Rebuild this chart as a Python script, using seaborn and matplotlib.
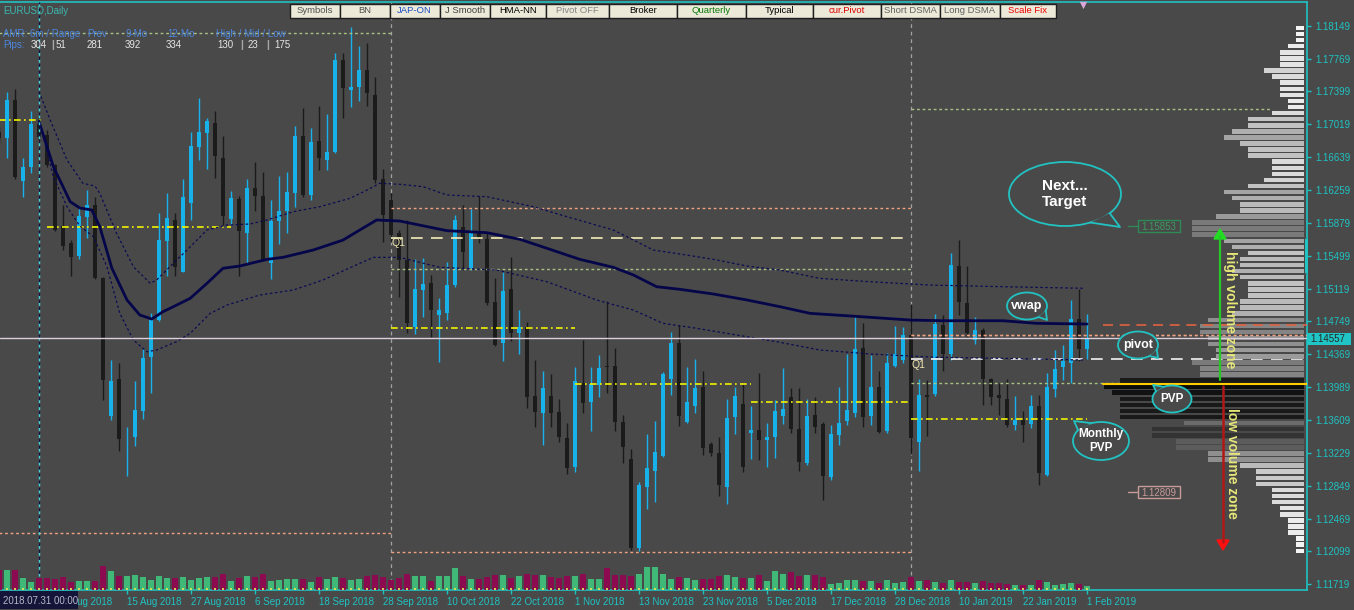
import numpy as np
import pandas as pd
import seaborn as sns
import matplotlib.pyplot as plt
from matplotlib.patches import Ellipse, Polygon, Rectangle
from matplotlib.colors import Normalize, LinearSegmentedColormap

BG = "#494949"
CYAN = "#1fc3c3"

sns.set_theme(style="dark", rc={"axes.facecolor": BG, "figure.facecolor": BG,
                                "axes.edgecolor": CYAN, "axes.grid": False})
plt.rcParams["font.family"] = ["Liberation Sans", "DejaVu Sans"]

# ---------------- EURUSD daily bars (first one is clipped at the left edge) ----------------
first_bar = -1
opens = [1.16931, 1.16856, 1.17297, 1.16368, 1.16522, 1.17021, 1.16894, 1.16548, 1.15846, 1.15653,
         1.15500, 1.15953, 1.16087, 1.15247, 1.13661, 1.14084, 1.13422, 1.13420, 1.13715, 1.14341,
         1.14763, 1.15676, 1.15915, 1.15319, 1.16107, 1.16759, 1.16920, 1.17028, 1.16629, 1.15926,
         1.16157, 1.15762, 1.16280, 1.16191, 1.15423, 1.15903, 1.16022, 1.16229, 1.16882, 1.16203,
         1.16828, 1.16606, 1.16701, 1.17757, 1.17412, 1.17450, 1.17642, 1.17354, 1.16384, 1.16145,
         1.15768, 1.15454, 1.14686, 1.15109, 1.15186, 1.14821, 1.14847, 1.15166, 1.15838, 1.15359,
         1.15780, 1.15692, 1.14974, 1.14495, 1.15117, 1.14610, 1.14679, 1.13888, 1.13689, 1.13888,
         1.13700, 1.13401, 1.13067, 1.14041, 1.13822, 1.14015, 1.14234, 1.14234, 1.13592, 1.13159,
         1.12134, 1.12844, 1.13028, 1.13197, 1.14080, 1.14502, 1.13592, 1.13773, 1.13988, 1.13335,
         1.13235, 1.12837, 1.13650, 1.13796, 1.13466, 1.13497, 1.13381, 1.13412, 1.13658, 1.13873,
         1.13505, 1.13120, 1.13669, 1.13566, 1.12959, 1.13439, 1.13604, 1.13696, 1.14437, 1.13658,
         1.13988, 1.13489, 1.14234, 1.14303, 1.14591, 1.13362, 1.13900, 1.13911, 1.14706, 1.14372,
         1.15385, 1.14962, 1.14533, 1.14648, 1.14080, 1.13900, 1.13850, 1.13555, 1.13612, 1.13566,
         1.13773, 1.12978, 1.13965, 1.14226, 1.14272, 1.14771, 1.14426]
highs = [1.16990, 1.17392, 1.17420, 1.16626, 1.17170, 1.17090, 1.16951, 1.16556, 1.16087, 1.15684,
         1.16049, 1.16260, 1.16183, 1.15258, 1.14303, 1.14268, 1.13535, 1.14061, 1.14429, 1.14844,
         1.15995, 1.16226, 1.15995, 1.16387, 1.16928, 1.17316, 1.17086, 1.17173, 1.16882, 1.16252,
         1.16191, 1.16384, 1.16579, 1.16471, 1.16145, 1.16421, 1.16471, 1.16997, 1.17201, 1.16971,
         1.17227, 1.17135, 1.17841, 1.17841, 1.18141, 1.17918, 1.17956, 1.17565, 1.16499, 1.16229,
         1.15800, 1.15915, 1.15462, 1.15474, 1.15281, 1.15013, 1.15435, 1.15972, 1.16087, 1.16038,
         1.16191, 1.15762, 1.15243, 1.15319, 1.15485, 1.14878, 1.14744, 1.14303, 1.14179, 1.14141,
         1.13850, 1.13574, 1.14219, 1.14533, 1.14219, 1.14360, 1.14985, 1.14437, 1.13669, 1.13274,
         1.12901, 1.13451, 1.13604, 1.14168, 1.14629, 1.14706, 1.14226, 1.14311, 1.14179, 1.13358,
         1.13419, 1.13850, 1.13988, 1.14035, 1.13773, 1.14157, 1.13581, 1.13842, 1.14207, 1.13977,
         1.13977, 1.13850, 1.13873, 1.13589, 1.13555, 1.13995, 1.14372, 1.14821, 1.14725, 1.14360,
         1.14179, 1.14380, 1.14694, 1.14686, 1.14947, 1.14080, 1.14072, 1.14832, 1.14821, 1.15531,
         1.15684, 1.15385, 1.14794, 1.14671, 1.14095, 1.14035, 1.14080, 1.13888, 1.13719, 1.13900,
         1.13900, 1.14149, 1.14418, 1.14475, 1.14994, 1.15117, 1.14832]
lows = [1.16800, 1.16626, 1.16384, 1.16183, 1.16453, 1.16836, 1.16529, 1.15788, 1.15569, 1.15270,
        1.15462, 1.15704, 1.15232, 1.13842, 1.13612, 1.13258, 1.12970, 1.13316, 1.13623, 1.13923,
        1.14752, 1.15270, 1.15270, 1.15316, 1.15915, 1.16606, 1.16499, 1.16395, 1.15857, 1.15857,
        1.15270, 1.15423, 1.16022, 1.15443, 1.15232, 1.15638, 1.15762, 1.16068, 1.16176, 1.16145,
        1.16490, 1.16490, 1.16690, 1.17086, 1.17219, 1.17289, 1.17227, 1.16337, 1.15665, 1.15665,
        1.15025, 1.14610, 1.14602, 1.14801, 1.14571, 1.14283, 1.14763, 1.15147, 1.15339, 1.15339,
        1.15646, 1.14936, 1.14467, 1.14294, 1.14525, 1.14372, 1.13746, 1.13528, 1.13324, 1.13528,
        1.13362, 1.12990, 1.13016, 1.13689, 1.13489, 1.13880, 1.13919, 1.13489, 1.13120, 1.12115,
        1.12107, 1.12583, 1.12671, 1.13182, 1.13900, 1.13543, 1.13577, 1.13689, 1.13209, 1.13197,
        1.12737, 1.12644, 1.13451, 1.13016, 1.13159, 1.13151, 1.13067, 1.13171, 1.13566, 1.13466,
        1.13028, 1.13093, 1.13459, 1.12690, 1.12921, 1.13324, 1.13555, 1.13650, 1.13535, 1.13555,
        1.13466, 1.13466, 1.14219, 1.14265, 1.13220, 1.13028, 1.13428, 1.13888, 1.14179, 1.14303,
        1.14821, 1.14571, 1.14487, 1.13784, 1.13784, 1.13669, 1.13535, 1.13497, 1.13362, 1.13516,
        1.12863, 1.12967, 1.13873, 1.14072, 1.14035, 1.14294, 1.14311]
closes = [1.16859, 1.17297, 1.16407, 1.16522, 1.17021, 1.16867, 1.16548, 1.15800, 1.15615, 1.15492,
          1.15961, 1.16087, 1.15247, 1.14072, 1.14061, 1.13396, 1.13428, 1.13727, 1.14326, 1.14763,
          1.15684, 1.15934, 1.15370, 1.16176, 1.16767, 1.16932, 1.17058, 1.16655, 1.15961, 1.16165,
          1.15792, 1.16280, 1.16191, 1.15454, 1.15903, 1.16022, 1.16241, 1.16882, 1.16203, 1.16816,
          1.16632, 1.16701, 1.17757, 1.17431, 1.17450, 1.17642, 1.17381, 1.16375, 1.15972, 1.15742,
          1.15454, 1.14732, 1.15117, 1.15174, 1.14878, 1.14878, 1.15166, 1.15915, 1.15550, 1.15780,
          1.15704, 1.14962, 1.14475, 1.15097, 1.14610, 1.14679, 1.13873, 1.13707, 1.13977, 1.13696,
          1.13412, 1.13055, 1.14061, 1.13811, 1.14026, 1.14207, 1.14219, 1.13592, 1.13297, 1.12134,
          1.12863, 1.13055, 1.13247, 1.14141, 1.14502, 1.13658, 1.13822, 1.13977, 1.13286, 1.13235,
          1.12863, 1.13638, 1.13888, 1.13074, 1.13497, 1.13381, 1.13420, 1.13715, 1.13735, 1.13505,
          1.13131, 1.13658, 1.13528, 1.12967, 1.13451, 1.13574, 1.13727, 1.14426, 1.13643, 1.13988,
          1.13477, 1.14265, 1.14372, 1.14591, 1.13401, 1.13900, 1.13880, 1.14717, 1.14372, 1.15397,
          1.14974, 1.14617, 1.14648, 1.14080, 1.13873, 1.13862, 1.13555, 1.13612, 1.13555, 1.13773,
          1.12998, 1.13988, 1.14196, 1.14294, 1.14771, 1.14426, 1.14541]
tick_vol = [56, 56, 56, 35, 23, 35, 35, 32, 38, 23, 26, 26, 26, 68, 53, 41, 41, 44, 38, 29,
            41, 35, 35, 38, 29, 35, 38, 38, 47, 26, 35, 41, 38, 47, 26, 29, 32, 32, 32, 23,
            38, 32, 38, 35, 29, 32, 41, 44, 38, 29, 35, 47, 41, 41, 26, 41, 41, 62, 41, 32,
            32, 38, 44, 44, 35, 41, 47, 44, 44, 38, 35, 41, 41, 47, 32, 32, 62, 44, 44, 41,
            47, 65, 65, 47, 32, 38, 35, 29, 32, 32, 41, 44, 38, 35, 35, 44, 26, 53, 47, 50,
            41, 44, 44, 38, 17, 20, 29, 29, 26, 26, 20, 29, 20, 23, 38, 26, 29, 23, 20, 29,
            23, 23, 20, 26, 20, 20, 17, 14, 14, 14, 29, 23, 14, 17, 20, 17, 11]

# anchored vwap and its bands (bar index, price)
vwap_x = [4, 5.8, 7.9, 9.1, 10.6, 11.6, 13.1, 15, 16.6, 18.1, 19.5, 20.8, 22.9, 25, 27, 29.1, 32.5,
          34.5, 38.3, 42, 44.1, 46.2, 49.1, 55, 60, 64.1, 67.5, 71.6, 75.8, 78.3, 81.2, 84.1, 88.3,
          92.5, 96.6, 100.4, 105.4, 112.9, 117, 124.5, 128.7, 135]
vwap_y = [1.17047, 1.16529, 1.16126, 1.16053, 1.16030, 1.15838, 1.15362, 1.14994, 1.14821, 1.14775,
          1.14859, 1.14917, 1.15013, 1.15186, 1.15359, 1.15385, 1.15462, 1.15485, 1.15570, 1.15684,
          1.15800, 1.15915, 1.15903, 1.15792, 1.15769, 1.15693, 1.15589, 1.15462, 1.15370, 1.15282,
          1.15147, 1.15117, 1.15063, 1.14994, 1.14917, 1.14840, 1.14810, 1.14763, 1.14755, 1.14755,
          1.14725, 1.14717]
upper_x = [4, 5.4, 7.5, 9.5, 11, 11.6, 13.7, 15.8, 17.9, 18.7, 21.2, 22.5, 25, 27.5, 30.4, 32.5,
           35.8, 39.1, 42.9, 45, 46.6, 49.1, 52, 55, 60, 65.8, 70, 75.8, 80.8, 84.1, 88.3, 92.5,
           96.6, 101.6, 107.9, 115.4, 124.5, 134.5]
upper_y = [1.17392, 1.17066, 1.16606, 1.16337, 1.16306, 1.16222, 1.15762, 1.15377, 1.15186, 1.15224,
           1.15454, 1.15569, 1.15800, 1.15857, 1.15869, 1.15915, 1.16011, 1.16068, 1.16165, 1.16260,
           1.16338, 1.16326, 1.16299, 1.16203, 1.16183, 1.16068, 1.15953, 1.15800, 1.15569, 1.15524,
           1.15462, 1.15385, 1.15339, 1.15243, 1.15204, 1.15166, 1.15147, 1.15129]
lower_x = [4, 5.8, 7.5, 9.1, 10.8, 12.5, 14.1, 15.8, 17.5, 18.7, 21.2, 22.9, 25.4, 27.5, 31.6, 35.8,
           39.5, 44.1, 45.8, 49.1, 54.1, 61.2, 67.5, 73.7, 78.3, 82, 86.2, 92.5, 96.6, 101.6, 107.9,
           116.2, 124.5, 134.5]
lower_y = [1.17066, 1.16413, 1.16068, 1.15846, 1.15723, 1.15377, 1.14840, 1.14533, 1.14398, 1.14418,
           1.14514, 1.14610, 1.14840, 1.14936, 1.15051, 1.15109, 1.15224, 1.15416, 1.15485, 1.15485,
           1.15370, 1.15339, 1.15204, 1.14994, 1.14878, 1.14725, 1.14668, 1.14571, 1.14507, 1.14418,
           1.14372, 1.14334, 1.14322, 1.14303]

# monthly point of value (yellow dash-dot steps)
mpvp_from = [-1, 5, 48, 71, 93, 113]
mpvp_to = [4.5, 28, 71, 93, 113, 135]
mpvp_price = [1.17066, 1.15838, 1.14668, 1.14023, 1.13825, 1.13620]

# quarterly levels
qpiv_from, qpiv_to, qpiv_price = [48, 113], [113, 163], [1.15704, 1.14311]
qhl_from = [-1, 48, 48, 113]
qhl_to = [48, 113, 113, 163]
qhl_price = [1.12307, 1.16050, 1.12088, 1.14590]
prev_from = [-1, 48, 113, 113]
prev_to = [48, 113, 158, 163]
prev_price = [1.18068, 1.15347, 1.17193, 1.14034]

last_price = 1.14557
cur_pivot = 1.14705
pvp_price = 1.14023
anchor_bar = 4
quarter_bars = [48, 113]

# session volume profile
profile_top = 1.18126
profile_step = 0.0007
profile_vol = [1, 1, 1, 2, 3, 3, 3, 5, 4, 3, 3, 3, 2, 2, 4, 7, 7, 9, 10, 8,
               7, 7, 4, 4, 4, 5, 7, 10, 9, 8, 8, 11, 14, 14, 14, 10, 9, 7, 8, 8,
               9, 8, 7, 7, 7, 8, 8, 9, 12, 13, 13, 12, 12, 11, 11, 14, 13, 13, 23, 25,
               24, 23, 23, 23, 23, 15, 19, 19, 16, 16, 12, 12, 8, 6, 6, 6, 4, 4, 4, 3,
               3, 2, 2, 2, 1, 1, 1]

price_ticks = [1.18149, 1.17769, 1.17399, 1.17019, 1.16639, 1.16259, 1.15879, 1.15499, 1.15119,
               1.14749, 1.14369, 1.13989, 1.13609, 1.13229, 1.12849, 1.12469, 1.12099, 1.11719]
date_bars = [7, 15, 23, 31, 39, 47, 55, 63, 71, 79, 87, 95, 103, 111, 119, 127, 135]
date_labels = ["3 Aug 2018", "15 Aug 2018", "27 Aug 2018", "6 Sep 2018", "18 Sep 2018",
               "28 Sep 2018", "10 Oct 2018", "22 Oct 2018", "1 Nov 2018", "13 Nov 2018",
               "23 Nov 2018", "5 Dec 2018", "17 Dec 2018", "28 Dec 2018", "10 Jan 2019",
               "22 Jan 2019", "1 Feb 2019"]

df = pd.DataFrame({"o": opens, "h": highs, "l": lows, "c": closes, "vol": tick_vol})
df["bar"] = np.arange(len(df)) + first_bar
df["up"] = df.c >= df.o

X_LO, X_HI = -0.875, 162.44
Y_LO, Y_HI = 1.116544, 1.184254

fig = plt.figure(figsize=(13.54, 6.10), dpi=100)
ax = fig.add_axes([0, 1 - 590 / 610, 1306.5 / 1354, 588 / 610])
ax_v = ax.twinx()
ax_p = ax.twiny()

# ---------------- candles ----------------
BLUE, DARK = "#17b2ea", "#1b1b1b"
ccol = np.where(df.up, BLUE, DARK)
ax.vlines(df.bar, df.l, df.h, colors=ccol, lw=1, zorder=2)
body = np.maximum((df.c - df.o).abs(), 0.00009)
ax.bar(df.bar, body, bottom=np.minimum(df.o, df.c), width=0.62, color=ccol, lw=0, zorder=3)

# ---------------- indicator lines ----------------
sns.lineplot(x=vwap_x, y=vwap_y, ax=ax, color="#05054a", lw=2.0, zorder=5)
sns.lineplot(x=upper_x, y=upper_y, ax=ax, color="#0b0b55", lw=0.9, ls=(0, (2, 2)), zorder=5)
sns.lineplot(x=lower_x, y=lower_y, ax=ax, color="#0b0b55", lw=0.9, ls=(0, (2, 2)), zorder=5)

ax.hlines(mpvp_price, mpvp_from, mpvp_to, color="#f2f200", lw=1.2, ls=(0, (4, 2, 1, 2)), zorder=4)
ax.hlines(qpiv_price[0], qpiv_from[0], qpiv_to[0], color="#f3eeb8", lw=1.2, ls=(0, (7, 5)), zorder=4)
ax.hlines(qpiv_price[1], qpiv_from[1], qpiv_to[1], color="#f2f2f2", lw=1.2, ls=(0, (7, 5)), zorder=4)
ax.hlines(qhl_price, qhl_from, qhl_to, color="#f0a283", lw=1.0, ls=(0, (2, 2)), zorder=4)
ax.hlines(prev_price, prev_from, prev_to, color="#a9c283", lw=1.0, ls=(0, (2, 2)), zorder=4)
for qb in quarter_bars:
    ax.axvline(qb, color="#a2a2a2", lw=0.9, ls=(0, (3, 3)), zorder=1)
ax.axvline(anchor_bar, color="#45d6d6", lw=1.0, ls=(0, (3, 2)), zorder=6)
ax.axvline(anchor_bar, color="#0d0d40", lw=1.0, ls=(3, (2, 3)), zorder=6)

ax.set_xlim(X_LO, X_HI)
ax.set_ylim(Y_LO, Y_HI)

# ---------------- tick volume ----------------
vcol = np.where(df.up, "#40b877", "#8c0a4f")
ax_v.bar(df.bar, df.vol, width=0.7, color=vcol, lw=0)
ax_v.hlines(np.full(len(df), 4.0), df.bar - 0.18, df.bar + 0.18, color="#dfe35a", lw=1.3)
ax_v.set_ylim(0, 1676)
ax_v.set_yticks([])

# ---------------- volume profile (right) ----------------
levels = profile_top - profile_step * np.arange(len(profile_vol))
prof_cmap = LinearSegmentedColormap.from_list(
    "prof", [(0.0, "#f4f4f4"), (0.3, "#b8b8b8"), (0.54, "#7a7a7a"), (0.75, "#333333"), (1.0, "#0c0c0c")])
pcol = prof_cmap(Normalize(1, 25, clip=True)(profile_vol))
ax_p.barh(levels, profile_vol, height=0.00052, color=pcol, lw=0)
ax_p.set_xlim(163.0, -0.3125)
ax_p.set_xticks([])


def frac(bar):
    return (bar - X_LO) / (X_HI - X_LO)


ax_p.axhline(last_price, color="#dccfdc", lw=1.0)
ax_p.axhline(qhl_price[3], xmin=frac(113), color="#f0a283", lw=1.0, ls=(0, (2, 2)))
ax_p.axhline(cur_pivot, xmin=frac(137), color="#e0603f", lw=1.2, ls=(0, (6, 4)))
ax_p.axhline(pvp_price, xmin=frac(137), color="#ffcc00", lw=1.5)

for a in (ax_v, ax_p):
    a.patch.set_visible(False)
    for s in a.spines.values():
        s.set_visible(False)

# ---------------- axes styling ----------------
for side in ("top", "right", "bottom"):
    ax.spines[side].set_color(CYAN)
    ax.spines[side].set_linewidth(1.2)
ax.spines["left"].set_visible(False)
ax.yaxis.tick_right()
ax.set_yticks(price_ticks)
ax.set_yticklabels([f"{p:.5f}" for p in price_ticks])
ax.set_xticks(date_bars)
ax.set_xticklabels(date_labels)
for lbl in ax.get_xticklabels():
    lbl.set_horizontalalignment("left")
ax.tick_params(axis="both", colors=CYAN, labelsize=7, length=3, width=1, direction="out", pad=2)
ax.tick_params(axis="y", left=False, right=True, labelleft=False, labelright=True, pad=3)
ax.tick_params(axis="x", bottom=True, top=False)
ax.set_xlabel("")
ax.set_ylabel("")

# ---------------- overlay (pixel coordinates) ----------------
ov = fig.add_axes([0, 0, 1, 1])
ov.set_xlim(0, 1354)
ov.set_ylim(610, 0)
ov.axis("off")
ov.patch.set_alpha(0)

ov.text(3, 11, "EURUSD,Daily", color="#3bb8b0", fontsize=7, va="center")
info_blue = "#4d86e0"
for x, t in [(3, "AMR: 6m / Range"), (87, "Prev"), (125, "9-Mo"), (167, "12-Mo"), (216, "High / Mid / Low")]:
    ov.text(x, 34, t, color=info_blue, fontsize=7, va="center")
ov.text(3, 44.5, "Pips:", color=info_blue, fontsize=7, va="center")
for x, t in [(31, "304"), (56, "51"), (87, "281"), (125, "392"), (166, "334"), (217, "130"),
             (248, "23"), (274, "175")]:
    ov.text(x, 44.5, t, color="#e6e6e6", fontsize=7, va="center")
for x in (51, 240, 266):
    ov.text(x, 44.5, "|", color="#a8a8a8", fontsize=7.5, va="center", fontweight="bold")

# toolbar buttons
btn_edges = [290, 339.5, 389.5, 440, 489.5, 546, 609, 677, 745.5, 813, 880.5, 939.5, 1000, 1056]
btn_text = ["Symbols", "BN", "JAP-ON", "J Smooth", "HMA-NN", "Pivot OFF", "Broker", "Quarterly",
            "Typical", "cur.Pivot", "Short DSMA", "Long DSMA", "Scale Fix"]
btn_col = ["#505050", "#505050", "#1e50c8", "#404040", "#000000", "#858585", "#000000", "#0a7a0a",
           "#000000", "#e00000", "#606060", "#606060", "#f00000"]
for i, t in enumerate(btn_text):
    x0, x1 = btn_edges[i], btn_edges[i + 1]
    ov.add_patch(Rectangle((x0, 3.5), x1 - x0, 14, facecolor="#ece9d8", edgecolor="#1e1e1e", lw=1))
    ov.text((x0 + x1) / 2, 10.8, t, color=btn_col[i], fontsize=6.8, ha="center", va="center")
ov.scatter([1083], [5], marker="v", s=28, color="#d8a8d8", lw=0)

# quarter labels
ov.text(391, 243, "Q1", color="#f0e6b0", fontsize=7.5, va="center")
ov.text(912, 365, "Q1", color="#f0e6b0", fontsize=7.5, va="center")

# price tags
ov.plot([1128, 1138], [226, 226], color="#2e8b57", lw=1)
ov.add_patch(Rectangle((1138, 220), 42, 12, facecolor="none", edgecolor="#2e8b57", lw=1))
ov.text(1159, 226.5, "1.15853", color="#3c9a5e", fontsize=7, ha="center", va="center")
ov.plot([1128, 1138], [492, 492], color="#c89a9a", lw=1)
ov.add_patch(Rectangle((1138, 486), 42, 12, facecolor="none", edgecolor="#c89a9a", lw=1))
ov.text(1159, 492.5, "1.12809", color="#c89a9a", fontsize=7, ha="center", va="center")
ov.add_patch(Rectangle((1307, 333), 44, 12, facecolor="#20c6c6", edgecolor="none"))
ov.text(1310, 339.5, f"{last_price:.5f}", color="#262626", fontsize=7, va="center")
ov.add_patch(Rectangle((1304.5, 239), 3.5, 34, facecolor=CYAN, edgecolor="none"))

# crosshair date (covers the first date label, as in the terminal)
ov.add_patch(Rectangle((0, 591), 78, 18, facecolor="#15153a", edgecolor="none"))
ov.text(3, 600.5, "2018.07.31 00:00", color="#b8b8c8", fontsize=7, va="center")

# zone arrows
ov.plot([1220, 1220], [380, 236], color="#28c828", lw=1.6)
ov.add_patch(Polygon([(1214, 239), (1226, 239), (1220, 229)], color="#22dd22"))
ov.plot([1223, 1223], [386, 542], color="#b01818", lw=1.8)
ov.add_patch(Polygon([(1217, 540), (1229, 540), (1223, 550)], color="#ff1010"))
ov.text(1230, 310, "high volume zone", color="#e6e67a", fontsize=10, fontweight="bold",
        rotation=-90, ha="center", va="center")
ov.text(1232, 463, "low volume zone", color="#e6e67a", fontsize=10, fontweight="bold",
        rotation=-90, ha="center", va="center")


def bubble(cx, cy, w, h, a1, a2, tip, text, size):
    ov.add_patch(Ellipse((cx, cy), w, h, facecolor=BG, edgecolor="#22c2c2", lw=1.3))
    t1, t2 = np.radians([a1, a2])
    p1 = (cx + w / 2 * np.cos(t1), cy + h / 2 * np.sin(t1))
    p2 = (cx + w / 2 * np.cos(t2), cy + h / 2 * np.sin(t2))
    ov.add_patch(Polygon([p1, tip, p2], closed=True, facecolor=BG, edgecolor="none"))
    ov.plot([p1[0], tip[0], p2[0]], [p1[1], tip[1], p2[1]], color="#22c2c2", lw=1.3)
    ov.text(cx, cy, text, color="white", fontsize=size, fontweight="bold",
            ha="center", va="center", linespacing=1.15)


bubble(1065, 194, 112, 64, 37, 63, (1120, 227), "Next...\nTarget", 11)
bubble(1027, 306, 40, 27, 20, 55, (1047, 320), "vwap", 9)
bubble(1138, 345, 40, 27, 20, 55, (1158, 358), "pivot", 9)
bubble(1172, 399, 39, 27, 215, 245, (1153, 385), "PVP", 8.5)
bubble(1101, 441, 56, 38, 215, 250, (1074, 421), "Monthly\nPVP", 8.5)

fig.savefig("out.png", dpi=100, facecolor=BG)
